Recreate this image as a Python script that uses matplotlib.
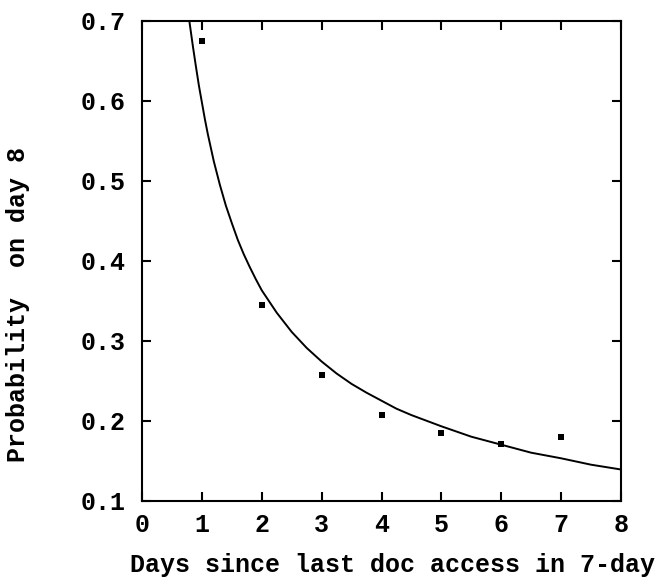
import matplotlib
matplotlib.use("Agg")
import matplotlib.pyplot as plt

# measured points (day since last access -> probability on day 8)
days = [1, 2, 3, 4, 5, 6, 7]
prob = [0.675, 0.345, 0.257, 0.207, 0.184, 0.171, 0.180]

# fitted curve
curve_x = [0.79, 0.85, 0.9, 0.95, 1.0, 1.05, 1.1, 1.2, 1.3, 1.4, 1.5, 1.6,
           1.7, 1.8, 1.9, 2.0, 2.25, 2.5, 2.75, 3.0, 3.25, 3.5, 3.75, 4.0, 4.25,
           4.5, 5.0, 5.5, 6.0, 6.5, 7.0, 7.5, 8.0]
curve_y = [0.700, 0.668, 0.643, 0.619, 0.598, 0.577, 0.558, 0.524, 0.495,
           0.469, 0.447, 0.426, 0.408, 0.392, 0.377, 0.363, 0.335, 0.311, 0.291,
           0.274, 0.259, 0.246, 0.235, 0.225, 0.215, 0.207, 0.193, 0.180, 0.170,
           0.160, 0.153, 0.145, 0.139]

xticks = [0, 1, 2, 3, 4, 5, 6, 7, 8]
yticks = [0.1, 0.2, 0.3, 0.4, 0.5, 0.6, 0.7]

plt.rcParams['font.family'] = ['Liberation Mono', 'DejaVu Sans Mono']
plt.rcParams['font.weight'] = 'bold'

fig = plt.figure(figsize=(6.67, 5.79), dpi=100)
ax = fig.add_axes([142/667, 1 - 500.7/579, (621 - 142)/667, (500.7 - 20.7)/579])

ax.plot(curve_x, curve_y, color="black", lw=1.4)
ax.plot(days, prob, 's', color="black", ms=4, mew=0)

ax.set_xlim(0, 8)
ax.set_ylim(0.1, 0.7)
ax.set_xticks(xticks)
ax.set_yticks(yticks)
ax.set_xticklabels([str(t) for t in xticks])
ax.set_yticklabels(["%.1f" % t for t in yticks])
ax.tick_params(direction="in", length=6.5, width=1.5, top=True, right=True,
               labelsize=18, pad=12)
ax.tick_params(axis="x", pad=9)
for s in ax.spines.values():
    s.set_linewidth(1.5)

fig.text(130/667, 1 - 565/579, "Days since last doc access in 7-day",
         ha="left", va="center", fontsize=18, fontweight="bold")
fig.text(18/667, 1 - 305/579, "Probability  on day 8", rotation=90,
         ha="center", va="center", fontsize=18, fontweight="bold")

fig.savefig("out.png", dpi=100)
